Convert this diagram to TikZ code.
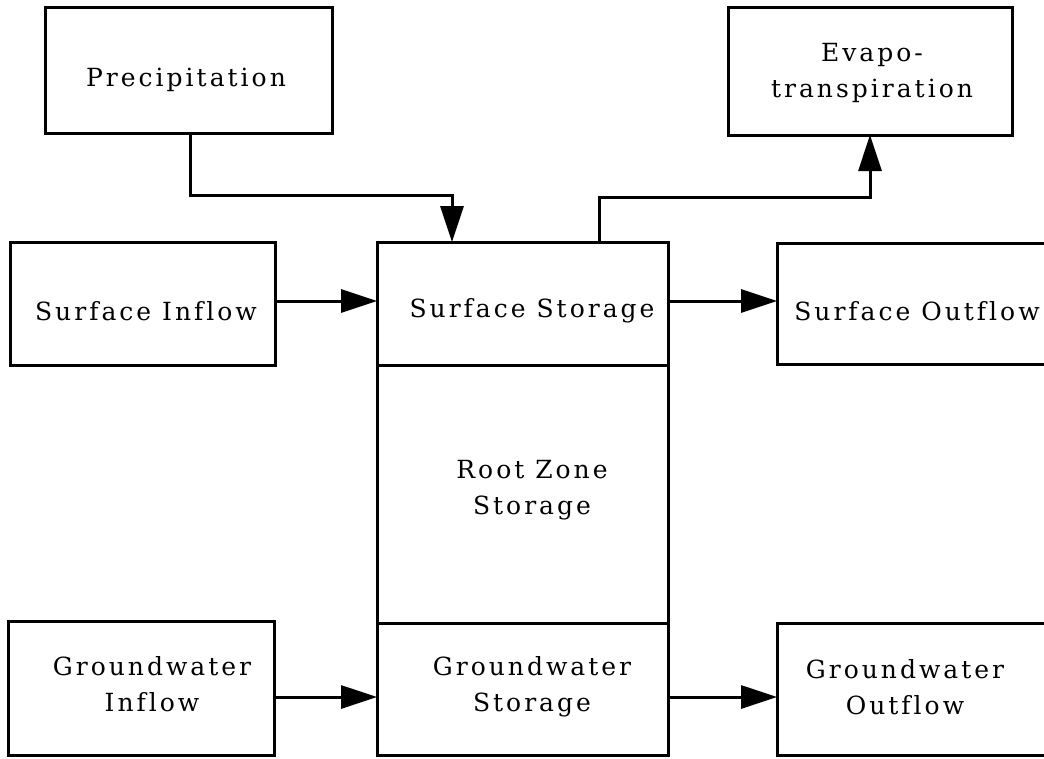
\documentclass[tikz,border=0pt]{standalone}
\usepackage{fontspec}
\setmainfont{DejaVu Serif}[LetterSpace=12, Ligatures=CommonOff]
\usetikzlibrary{arrows.meta}
\tikzset{
  box/.style={draw=black, line width=3pt, minimum width=#1, inner sep=0pt, outer sep=0pt},
  lbl/.style={font=\fontsize{25}{36}\selectfont, align=center, inner sep=0pt},
  flow/.style={line width=3pt, -{Triangle[length=36pt,width=23pt]}},
}
\begin{document}
\begin{tikzpicture}[x=1pt,y=-1pt]
\clip (0,0) rectangle (1044,758);
\fill[white] (0,0) rectangle (1044,758);
% boxes
\node[box=287pt, minimum height=126pt] (precip) at (188.5,70) {};
\node[box=284pt, minimum height=128pt] (et) at (870,71) {};
\node[box=265pt, minimum height=123pt] (sin) at (142.5,303.5) {};
\node[box=291pt, minimum height=123pt] (ss) at (522.5,303.5) {};
\node[box=291pt, minimum height=258pt] (rz) at (522.5,494) {};
\node[box=291pt, minimum height=132pt] (gs) at (522.5,689) {};
\node[box=300pt, minimum height=121pt] (sout) at (927,303.5) {};
\node[box=266pt, minimum height=134pt] (gin) at (141,688) {};
\node[box=300pt, minimum height=132pt] (gout) at (927,689) {};
% labels
\node[lbl] (tprecip) at (186,80) {Precipitation};
\node[lbl] (tet) at (872,73) {Evapo-\\transpiration};
\node[lbl] (tsin) at (146,311) {Surface Inflow};
\node[lbl] (tss) at (532,311) {Surface Storage};
\node[lbl] (tsout) at (917,311) {Surface Outflow};
\node[lbl] (trz) at (532,490) {Root Zone\\Storage};
\node[lbl] (tgin) at (152,684) {Groundwater\\Inflow};
\node[lbl] (tgs) at (532,687) {Groundwater\\Storage};
\node[lbl] (tgout) at (905,687) {Groundwater\\Outflow};
% connectors
\coordinate (pbend) at (190,195);
\coordinate (ssin) at (452,242);
\draw[flow] (pbend |- precip.south) -- (pbend) -| (ssin);
\coordinate (ssout) at (599,242);
\coordinate (etbend) at (599,197);
\draw[flow] (ssout) -- (etbend) -| (et.south);
\coordinate (sy) at (0,301);
\draw[flow] (sin.east |- sy) -- (ss.west |- sy);
\draw[flow] (ss.east |- sy) -- (sout.west |- sy);
\coordinate (gy) at (0,697);
\draw[flow] (gin.east |- gy) -- (gs.west |- gy);
\draw[flow] (gs.east |- gy) -- (gout.west |- gy);
\end{tikzpicture}
\end{document}
